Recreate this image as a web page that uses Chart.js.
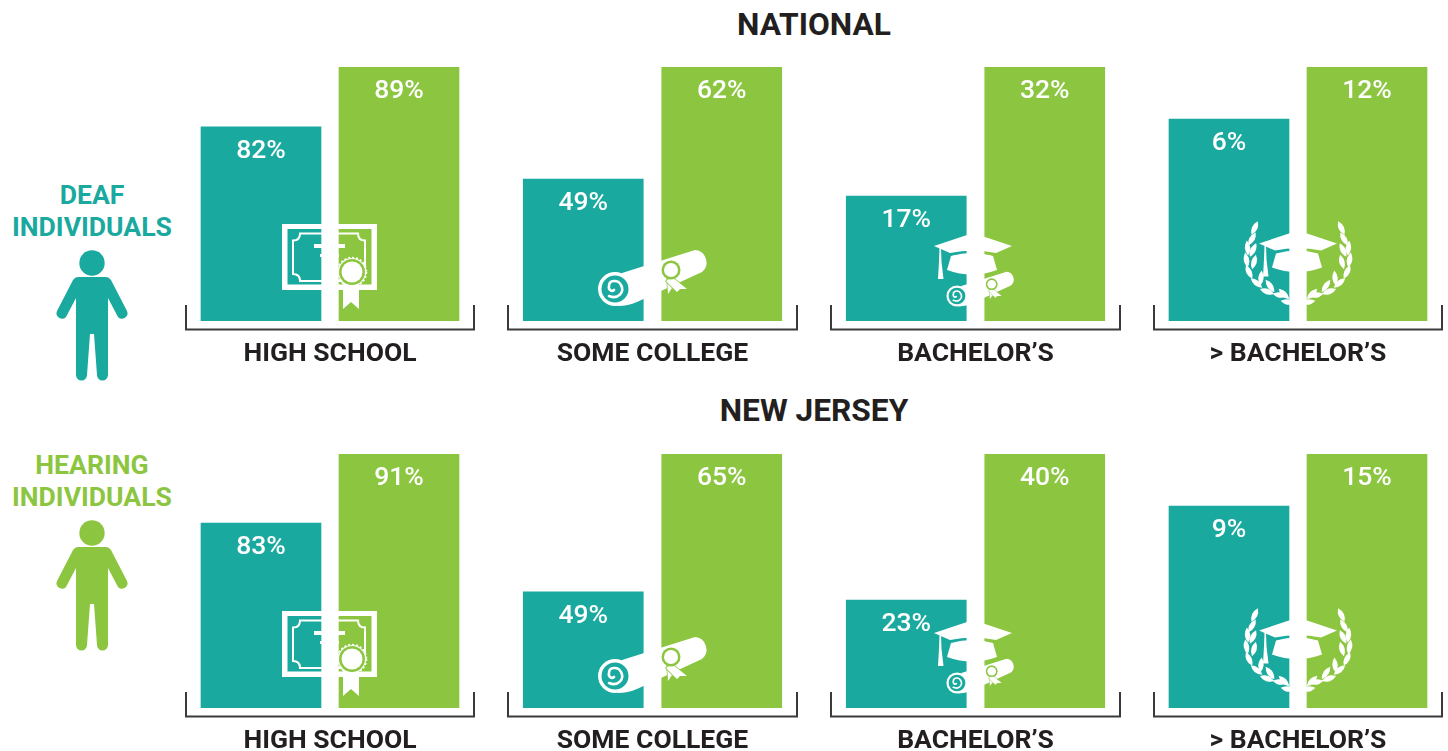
<!DOCTYPE html>
<html>
<head>
<meta charset="utf-8">
<title>Education attainment: deaf and hearing individuals</title>
<script src="https://cdn.jsdelivr.net/npm/chart.js@4"></script>
<style>
  html, body { margin: 0; padding: 0; background: #fff; overflow: hidden; }
  body { width: 1448px; height: 751px; position: relative; font-family: Roboto, sans-serif; }
  canvas { position: absolute; }
  svg { position: absolute; left: 0; top: 0; pointer-events: none; }
  .titulo { position: absolute; left: 614px; width: 400px; text-align: center; color: #231f20;
            font-weight: 700; font-size: 31.7px; line-height: 34px; }
  .grupo { position: absolute; left: 0; width: 184px; text-align: center;
           font-weight: 700; font-size: 26.6px; line-height: 32px; }
</style>
</head>
<body>
<div class="titulo" style="top:8px">NATIONAL</div>
<div class="titulo" style="top:394px">NEW JERSEY</div>
<div class="grupo" style="top:179px;color:#19a99f">DEAF<br>INDIVIDUALS</div>
<div class="grupo" style="top:449px;color:#8cc640">HEARING<br>INDIVIDUALS</div>
<script>
// Datos
const categories = ['HIGH SCHOOL', 'SOME COLLEGE', 'BACHELOR\u2019S', '> BACHELOR\u2019S'];
const seriesNames = ['Deaf individuals', 'Hearing individuals'];

// Porcentajes impresos sobre las barras
const nationalDeafPct = [82, 49, 17, 6];
const nationalHearingPct = [89, 62, 32, 12];
const jerseyDeafPct = [83, 49, 23, 9];
const jerseyHearingPct = [91, 65, 40, 15];

// Altura de cada barra (% de la barra mas alta del panel): el original no las dibuja proporcionales
const nationalDeafLevel = [76.4, 55.9, 49.2, 79.5];
const nationalHearingLevel = [100, 100, 100, 100];
const jerseyDeafLevel = [72.8, 45.7, 42.5, 79.5];
const jerseyHearingLevel = [100, 100, 100, 100];

const TEAL = '#19a99f';
const GREEN = '#8cc640';
const INK = '#231f20';

const barLefts = [201, 523, 846, 1169];
const barRights = [459, 782, 1105, 1427];
const rowTops = [60, 447];

// Corchete, categoria y porcentajes de cada panel
const panelPlugin = {
  id: 'panel',
  afterDatasetsDraw(chart, args, opts) {
    const { ctx, chartArea } = chart;
    const base = chartArea.bottom;
    const bars = chart.getDatasetMeta(0).data;

    ctx.save();
    ctx.fillStyle = '#fff';
    ctx.font = '500 26.5px Roboto';
    ctx.textAlign = 'center';
    ctx.textBaseline = 'middle';
    bars.forEach((bar, i) => {
      ctx.fillText(opts.pcts[i] + '%', bar.x, bar.y + 24);
    });

    ctx.strokeStyle = '#3a3a3c';
    ctx.lineWidth = 2;
    ctx.beginPath();
    ctx.moveTo(chartArea.left - 6, base - 16);
    ctx.lineTo(chartArea.left - 6, base + 8.5);
    ctx.lineTo(chartArea.right + 6, base + 8.5);
    ctx.lineTo(chartArea.right + 6, base - 16);
    ctx.stroke();

    ctx.fillStyle = INK;
    ctx.font = '700 26.5px Roboto';
    ctx.fillText(opts.category, (chartArea.left + chartArea.right) / 2, base + 33);
    ctx.restore();
  }
};

function crearPanel(row, i, deafLevel, hearingLevel, deafPct, hearingPct) {
  const canvas = document.createElement('canvas');
  const left = barLefts[i] - 20;
  const width = barRights[i] - barLefts[i] + 40;
  canvas.width = width;
  canvas.height = 315;
  canvas.style.left = left + 'px';
  canvas.style.top = rowTops[row] + 'px';
  canvas.style.width = width + 'px';
  canvas.style.height = '315px';
  document.body.appendChild(canvas);

  new Chart(canvas, {
    type: 'bar',
    data: {
      labels: seriesNames,
      datasets: [{
        data: [deafLevel, hearingLevel],
        backgroundColor: [TEAL, GREEN],
        borderWidth: 0,
        barThickness: 120
      }]
    },
    options: {
      responsive: false,
      animation: false,
      devicePixelRatio: 1,
      layout: { padding: { left: 11, right: 11, top: 7, bottom: 54 } },
      scales: {
        x: { display: false },
        y: { display: false, min: 0, max: 100 }
      },
      plugins: {
        legend: { display: false },
        tooltip: { enabled: false },
        panel: { category: categories[i], pcts: [deafPct, hearingPct] }
      }
    },
    plugins: [panelPlugin]
  });
}

categories.forEach((c, i) => {
  crearPanel(0, i, nationalDeafLevel[i], nationalHearingLevel[i], nationalDeafPct[i], nationalHearingPct[i]);
  crearPanel(1, i, jerseyDeafLevel[i], jerseyHearingLevel[i], jerseyDeafPct[i], jerseyHearingPct[i]);
});

// Hojas del laurel: x, y, giro
const hojas = [
  [1247.5, 248, -5], [1246.5, 260, -10], [1249, 272, -25], [1256.5, 283, -50], [1267, 291.5, -70], [1280, 295, -80],
  [1254.7, 228, 25], [1252, 239, 30], [1253, 250, 25], [1254, 262, 15], [1261, 278, 5], [1270, 286, -35],
  [1284, 294, -45], [1288, 302, -80]
];
const laurel = hojas.map(h =>
  `<path transform="translate(${h[0]},${h[1]}) rotate(${h[2]})" d="M0,-7.5 Q5.5,0 0,7.5 Q-5.5,0 0,-7.5Z"/>`).join('');

const persona = 'M78,277 H106 Q109,277 111,280 L127,311 A5.5,5.5 0 0 1 118,317 L108,298 V375 A5.5,5.5 0 0 1 97,375 L94,334 H90 L87,375 A5.5,5.5 0 0 1 76,375 V298 L66,317 A5.5,5.5 0 0 1 57,311 L73,280 Q75,277 78,277 Z';

const birrete = `
  <path d="M934,246 L973,233 L1012,246 L996,253 Q973,248 950,253 Z"/>
  <path d="M951,256 Q972,250 993,256 L997,270 Q972,279 947,270 Z"/>
  <path d="M939.5,248 L941,248 L941.5,262 L943.5,279 L938,279 L939,262 Z"/>`;

const rollo = `
  <circle cx="615" cy="289" r="17"/>
  <path d="M622,273 L695,250 A12.5,12.5 0 0 1 702,272 L637,302 Q628,306 618,306 Z"/>
  <circle cx="615" cy="289" r="13.5" fill="${TEAL}"/>
  <path d="M609,296 C618,300 625,292 621,285 C618,279 609,280 609,286 C608,290 612,292 614,290" fill="none" stroke="#fff" stroke-width="2.6" stroke-linecap="round"/>
  <path d="M667,277 L668,294 L672,288 L677,291 L674,277 Z" stroke="${GREEN}" stroke-width="1.5" paint-order="stroke"/>
  <path d="M672,277 L687,289 L680,289 L677,292 L666,281 Z" stroke="${GREEN}" stroke-width="1.5" paint-order="stroke"/>
  <circle cx="671" cy="270" r="9.5" fill="${GREEN}"/>
  <circle cx="671" cy="270" r="7"/>`;

const svg = `
<svg width="1448" height="751" xmlns="http://www.w3.org/2000/svg">
  <path d="${persona}" fill="${TEAL}"/>
  <circle cx="92" cy="263" r="12.7" fill="${TEAL}"/>
  <g transform="translate(0,270)">
    <path d="${persona}" fill="${GREEN}"/>
    <circle cx="92" cy="263" r="12.7" fill="${GREEN}"/>
  </g>
  <g id="iconos" fill="#fff">
    <!-- diploma -->
    <path fill-rule="evenodd" d="M282,224 H377 V290 H282 Z M287.5,229 V284.5 H371.5 V229 Z"/>
    <path d="M300,233.5 H358 Q358,240.5 365,240.5 V274 Q358,274 358,281 H300 Q300,274 293,274 V240.5 Q300,240.5 300,233.5 Z" fill="none" stroke="#fff" stroke-width="2"/>
    <rect x="314" y="244" width="31" height="4"/>
    <rect x="320" y="254" width="19" height="3"/>
    <path d="M343,283 H359 V309 L351,302 L343,309 Z"/>
    <circle cx="352" cy="272" r="14"/>
    <circle cx="352" cy="272" r="14.5" fill="none" stroke="#fff" stroke-width="1.5" stroke-dasharray="2 2"/>
    <circle cx="352" cy="272" r="13" fill="${GREEN}"/>
    <circle cx="352" cy="272" r="10.5"/>
    <!-- rollo -->
    ${rollo}
    <!-- birrete y rollo pequeno -->
    ${birrete}
    <g transform="translate(957,296) scale(.62) translate(-615,-289)">${rollo}</g>
    <!-- birrete con laurel -->
    <g transform="translate(325,-2.5)">${birrete}</g>
    ${laurel}
    <g transform="translate(2596,0) scale(-1,1)">${laurel}</g>
  </g>
  <use href="#iconos" y="387"/>
</svg>`;
document.body.insertAdjacentHTML('beforeend', svg);
</script>
</body>
</html>
